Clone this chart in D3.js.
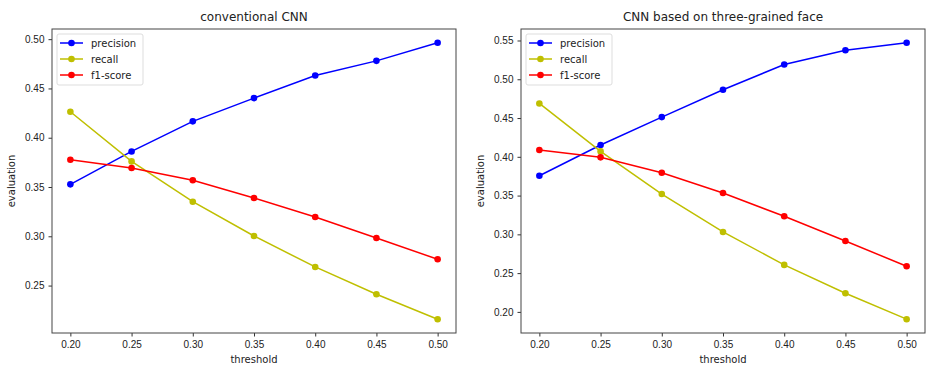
<!DOCTYPE html>
<html>
<head>
<meta charset="utf-8">
<script src="https://cdn.jsdelivr.net/npm/d3@7"></script>
<style>
  body { margin: 0; background: #fff; }
  svg { font-family: "DejaVu Sans", sans-serif; }
</style>
</head>
<body>
<div id="chart"></div>
<script>
const thresholds = [0.20, 0.25, 0.30, 0.35, 0.40, 0.45, 0.50]
const xTicks = [0.20, 0.25, 0.30, 0.35, 0.40, 0.45, 0.50]

// conventional CNN
const convPrecision = [0.3527, 0.3861, 0.4166, 0.4402, 0.4632, 0.4780, 0.4963]
const convRecall    = [0.4264, 0.3760, 0.3351, 0.3003, 0.2689, 0.2412, 0.2159]
const convF1        = [0.3777, 0.3693, 0.3568, 0.3389, 0.3196, 0.2983, 0.2767]
const convYTicks = [0.25, 0.30, 0.35, 0.40, 0.45, 0.50]

// CNN based on three-grained face
const tgPrecision = [0.3756, 0.4152, 0.4512, 0.4864, 0.5191, 0.5375, 0.5470]
const tgRecall    = [0.4688, 0.4070, 0.3520, 0.3031, 0.2606, 0.2241, 0.1906]
const tgF1        = [0.4087, 0.3993, 0.3795, 0.3533, 0.3233, 0.2915, 0.2588]
const tgYTicks = [0.20, 0.25, 0.30, 0.35, 0.40, 0.45, 0.50, 0.55]

const seriesNames = ["precision", "recall", "f1-score"]
const seriesColors = ["#0000ff", "#bfbf00", "#ff0000"]

const W = 926, H = 366

const svg = d3.select("#chart").append("svg")
  .attr("width", W)
  .attr("height", H)

function drawPanel(box, title, series, yTicks) {
  const allVals = series.flat()
  const lo = d3.min(allVals), hi = d3.max(allVals)
  const pad = (hi - lo) * 0.05
  const xlo = d3.min(thresholds), xhi = d3.max(thresholds)
  const xpad = (xhi - xlo) * 0.05

  const x = d3.scaleLinear().domain([xlo - xpad, xhi + xpad]).range([box.left, box.right])
  const y = d3.scaleLinear().domain([lo - pad, hi + pad]).range([box.bottom, box.top])

  const g = svg.append("g")

  const xAxis = g.append("g")
    .attr("transform", `translate(0,${box.bottom})`)
    .call(d3.axisBottom(x).tickValues(xTicks).tickFormat(d3.format(".2f")).tickSizeOuter(0).tickSize(3.5).tickPadding(4))
  const yAxis = g.append("g")
    .attr("transform", `translate(${box.left},0)`)
    .call(d3.axisLeft(y).tickValues(yTicks).tickFormat(d3.format(".2f")).tickSizeOuter(0).tickSize(3.5).tickPadding(4))

  ;[xAxis, yAxis].forEach(a => {
    a.select(".domain").remove()
    a.selectAll("line").attr("stroke", "#333")
    a.selectAll("text").attr("font-size", 10).attr("fill", "#222")
  })

  // frame
  g.append("rect")
    .attr("x", box.left).attr("y", box.top)
    .attr("width", box.right - box.left).attr("height", box.bottom - box.top)
    .attr("fill", "none").attr("stroke", "#444").attr("stroke-width", 1)

  const line = d3.line()
    .x((d, i) => x(thresholds[i]))
    .y(d => y(d))

  series.forEach((vals, k) => {
    g.append("path")
      .datum(vals)
      .attr("d", line)
      .attr("fill", "none")
      .attr("stroke", seriesColors[k])
      .attr("stroke-width", 1.5)
    g.selectAll(null)
      .data(vals)
      .enter()
      .append("circle")
      .attr("cx", (d, i) => x(thresholds[i]))
      .attr("cy", d => y(d))
      .attr("r", 3.3)
      .attr("fill", seriesColors[k])
  })

  // title and axis labels
  const cx = (box.left + box.right) / 2
  g.append("text")
    .attr("x", cx).attr("y", 21)
    .attr("text-anchor", "middle")
    .attr("font-size", 12).attr("fill", "#222")
    .text(title)
  g.append("text")
    .attr("x", cx).attr("y", 363)
    .attr("text-anchor", "middle")
    .attr("font-size", 10).attr("fill", "#222")
    .text("threshold")
  g.append("text")
    .attr("transform", `translate(${box.left - 37},${(box.top + box.bottom) / 2}) rotate(-90)`)
    .attr("text-anchor", "middle")
    .attr("font-size", 10).attr("fill", "#222")
    .text("evaluation")

  // legend
  const lg = g.append("g").attr("transform", `translate(${box.left + 5},${box.top + 5})`)
  lg.append("rect")
    .attr("width", box.legendW).attr("height", 51)
    .attr("rx", 2)
    .attr("fill", "#fff").attr("fill-opacity", 0.8)
    .attr("stroke", "#ddd")
  seriesNames.forEach((name, k) => {
    const yy = 9 + k * 16
    lg.append("line")
      .attr("x1", 3).attr("x2", 26).attr("y1", yy).attr("y2", yy)
      .attr("stroke", seriesColors[k]).attr("stroke-width", 1.5)
    lg.append("circle")
      .attr("cx", 14.5).attr("cy", yy).attr("r", 3.3)
      .attr("fill", seriesColors[k])
    lg.append("text")
      .attr("x", 34).attr("y", yy + 3.5)
      .attr("font-size", 10).attr("fill", "#222")
      .text(name)
  })
}

drawPanel({ left: 52, right: 456, top: 29, bottom: 333, legendW: 86 },
  "conventional CNN", [convPrecision, convRecall, convF1], convYTicks)
drawPanel({ left: 521, right: 925, top: 29, bottom: 333, legendW: 86 },
  "CNN based on three-grained face", [tgPrecision, tgRecall, tgF1], tgYTicks)
</script>
</body>
</html>
